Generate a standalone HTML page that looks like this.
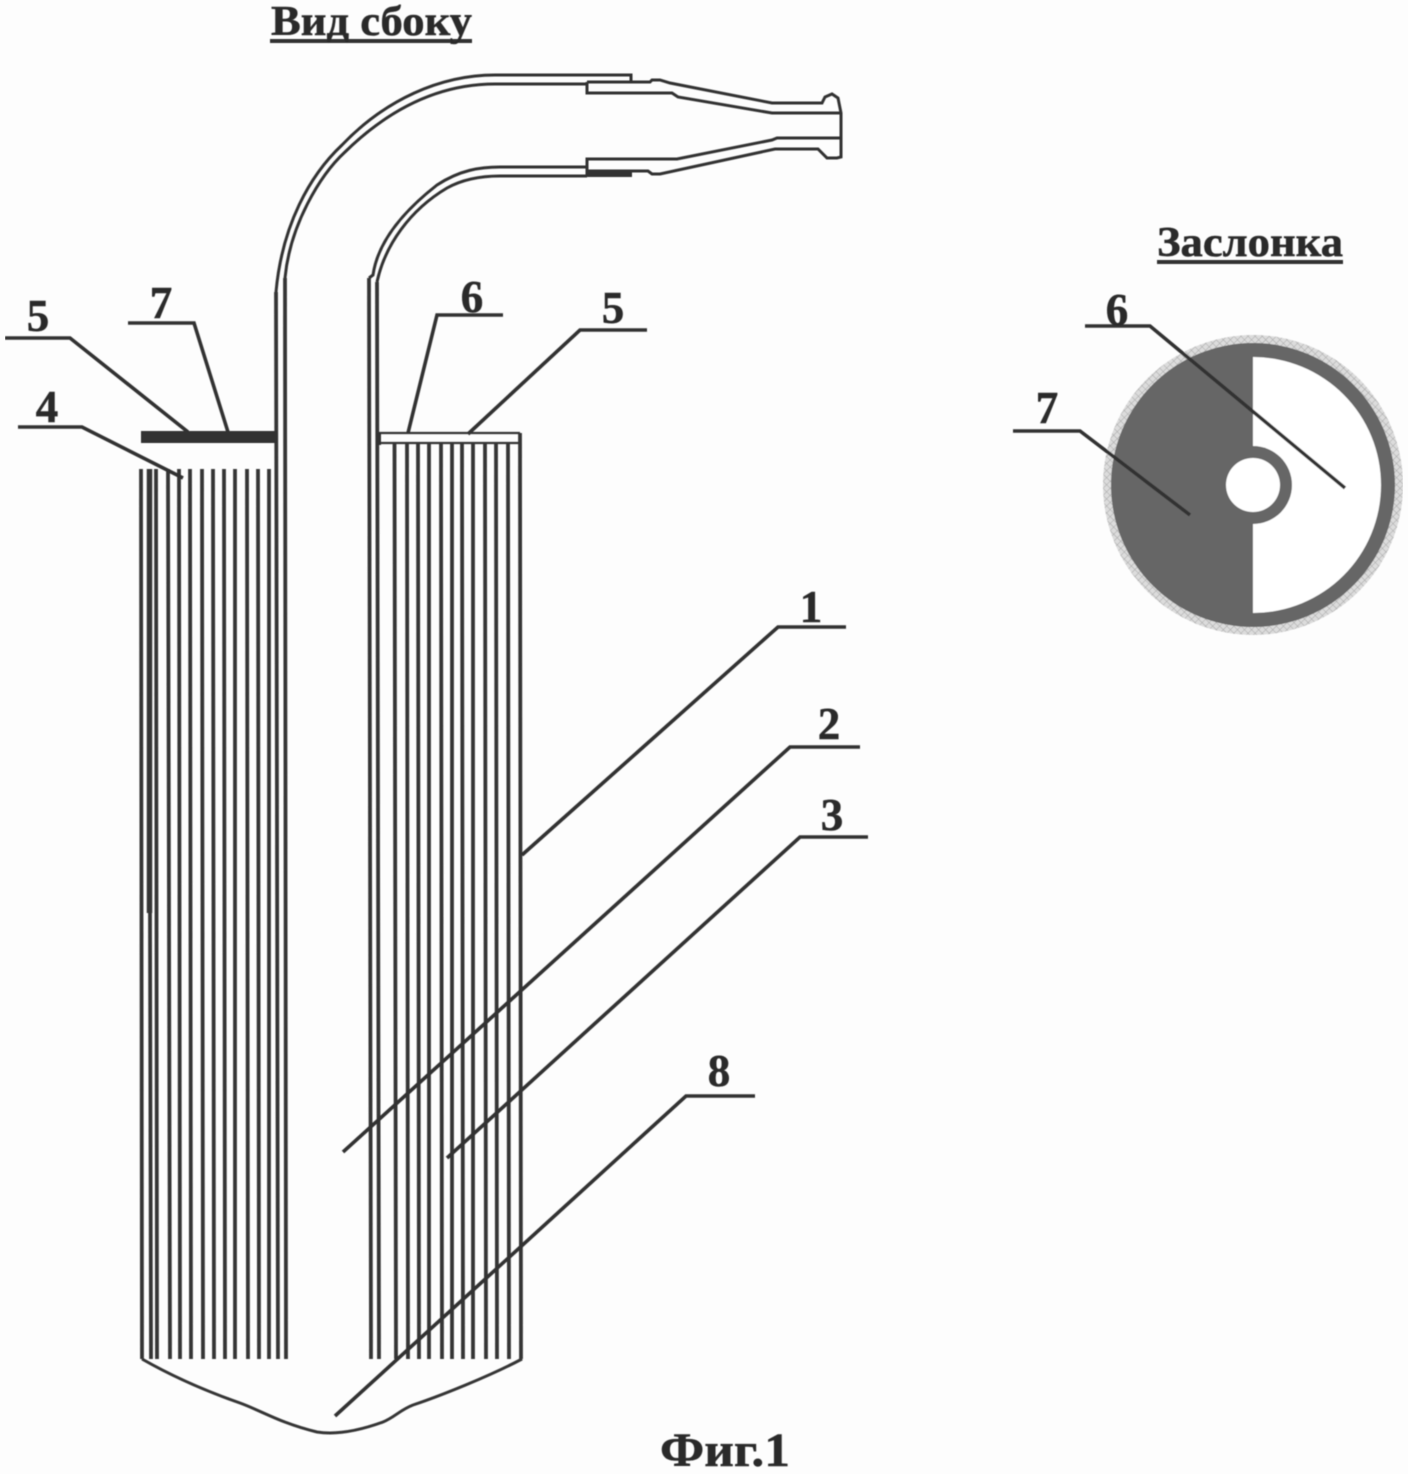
<!DOCTYPE html>
<html><head><meta charset="utf-8"><style>
html,body{margin:0;padding:0;background:#fdfdfd}
svg{display:block}
text{font-family:"Liberation Serif",serif;font-weight:bold;fill:#2a2a2a;stroke:#2a2a2a;stroke-width:.5px}
.n{font-size:45px;text-anchor:middle}
</style></head><body>
<svg width="1408" height="1474" viewBox="0 0 1408 1474" xmlns="http://www.w3.org/2000/svg">
<defs>
<pattern id="h" width="5" height="5" patternUnits="userSpaceOnUse" patternTransform="rotate(45)">
<rect width="5" height="5" fill="#dcdcdc"/><path d="M0 0H5M0 0V5" stroke="#a4a4a4" stroke-width="1"/>
</pattern>
<filter id="s" x="0" y="0" width="100%" height="100%"><feGaussianBlur stdDeviation="0.45"/></filter>
</defs>
<rect width="1408" height="1474" fill="#fdfdfd"/>
<g filter="url(#s)">
<!-- shutter -->
<circle cx="1253" cy="485" r="150" fill="url(#h)"/>
<circle cx="1253" cy="485" r="142" fill="#666"/>
<path d="M1253 357A128 128 0 0 1 1253 613Z" fill="#fff"/>
<circle cx="1253" cy="485" r="39" fill="#666"/>
<circle cx="1253" cy="485" r="27" fill="#fff"/>

<g fill="none" stroke="#353535" stroke-width="3.8">
<!-- left tubes -->
<path d="M141 469L142 1359M149 469L151 1359M156 469L157 1359M168 469L170 1359M179 469L180 1359M190 469L191 1359M202 469L203 1359M213 469L214 1359M224 469L225 1359M235 469V1359M247 469L248 1359M258 469L259 1359M269 469V1359"/>
<path d="M149.500 469V913" stroke-width="5.500"/>
<!-- right tubes -->
<path d="M394.500 443L396 1359M407 443L408 1359M418 443L419 1359M429 443V1359M441 443L442 1359M452 443V1359M462 443L463 1359M473 443V1359M485 443L486 1359M496 443L497 1359M508 443L509 1359M520 433L521 1359"/>
<!-- walls -->
<path d="M276 292L278 1359M285 278L286 1359M369 278L371 1359M377 282L379 1359" />
</g>
<g fill="none" stroke="#353535" stroke-width="3">
<!-- bottom -->
<path d="M142 1359C170 1375 200 1389 240 1403C262 1411 280 1423 317 1432C330 1434 350 1434 383 1422C395 1417 400 1410 413 1405C440 1396 490 1376 522 1359"/>
<!-- cap right -->
<path d="M378 433H520M378 443H520" stroke-width="2.200"/>
</g>
<rect x="141" y="431" width="136" height="12" fill="#333"/>
<rect x="377" y="433" width="4" height="12" fill="#333"/>

<!-- pipe -->
<g fill="none" stroke="#333" stroke-width="3">
<path d="M276 292C282 225 310 175 342 145C385 100 440 75 495 75H631V82"/>
<path d="M285 278C290 225 320 175 345 152C390 108 440 84 495 84H587"/>
<path d="M369 278L373 275C378 240 405 210 437 185C460 170 480 167 500 167H587"/>
<path d="M377 282C385 245 410 210 447 188C465 178 485 176 500 176H587"/>
<path d="M587 82H650L652 80H660L670 83L772 103H822L825 97L832 94L838 98L841 113V157L837 158H827L818 149H775L660 174H652L648 171H587"/>
<path d="M587 82V93H672L678 97L772 113H841M841 138H777L772 140L677 159H587V176"/>
</g>
<rect x="587" y="171" width="45" height="6" fill="#333"/>

<!-- leaders -->
<g fill="none" stroke="#333" stroke-width="3.600">
<path d="M5 338H70L188 432"/>
<path d="M128 323H194L228 432"/>
<path d="M18 427H82L183 478"/>
<path d="M503 315H437L408 433"/>
<path d="M647 330H580L468 434"/>
<path d="M846 627H778L522 855"/>
<path d="M860 747H790L343 1152"/>
<path d="M868 837H800L447 1158"/>
<path d="M755 1096H686L335 1416"/>
<path d="M1085 326H1150L1345 488"/>
<path d="M1013 431H1080L1190 515"/>
<path d="M270 41H472M1157 262H1343" stroke-width="4"/>
</g>

<!-- labels -->
<text x="271" y="35" font-size="42" textLength="201" lengthAdjust="spacingAndGlyphs">Вид сбоку</text>
<text x="1157" y="256" font-size="42" textLength="186" lengthAdjust="spacingAndGlyphs">Заслонка</text>
<text x="660" y="1466" font-size="48" textLength="130" lengthAdjust="spacingAndGlyphs">Фиг.1</text>
<text class="n" x="38" y="331">5</text>
<text class="n" x="161" y="318">7</text>
<text class="n" x="47" y="422">4</text>
<text class="n" x="472" y="312">6</text>
<text class="n" x="613" y="323">5</text>
<text class="n" x="811" y="622">1</text>
<text class="n" x="829" y="739">2</text>
<text class="n" x="832" y="830">3</text>
<text class="n" x="719" y="1086">8</text>
<text class="n" x="1117" y="325">6</text>
<text class="n" x="1047" y="423">7</text>
</g>
</svg>
</body></html>
